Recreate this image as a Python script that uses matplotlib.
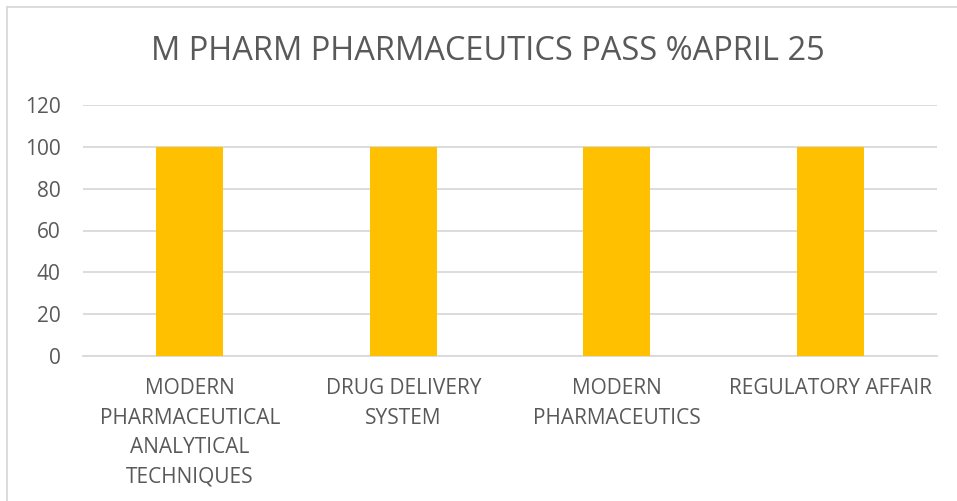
import matplotlib
matplotlib.use("Agg")
import matplotlib.pyplot as plt
from matplotlib.lines import Line2D

plt.rcParams["font.family"] = ["Open Sans", "DejaVu Sans"]

TITLE = "M PHARM PHARMACEUTICS PASS %APRIL 25"
CATEGORIES = [
    "MODERN\nPHARMACEUTICAL\nANALYTICAL\nTECHNIQUES",
    "DRUG DELIVERY\nSYSTEM",
    "MODERN\nPHARMACEUTICS",
    "REGULATORY AFFAIR",
]
PASS_PCT = [100, 100, 100, 100]
Y_TICKS = [0, 20, 40, 60, 80, 100, 120]

TEXT_COLOR = "#595959"
GRID_COLOR = "#D9D9D9"
BAR_COLOR = "#FFC000"

W, H = 957, 501
fig = plt.figure(figsize=(W / 100, H / 100), dpi=100)
# plot area in pixels: x 83..937, y 105..356
ax = fig.add_axes([83 / W, 1 - 356 / H, (937 - 83) / W, (356 - 105) / H])

x = range(len(CATEGORIES))
ax.bar(x, PASS_PCT, width=0.314, color=BAR_COLOR, zorder=3)

ax.set_xlim(-0.5, len(CATEGORIES) - 0.5)
ax.set_ylim(0, 120)
ax.set_yticks(Y_TICKS)
ax.set_xticks(list(x))
ax.set_xticklabels(CATEGORIES, linespacing=1.52)
ax.yaxis.grid(True, color=GRID_COLOR, linewidth=1.3, zorder=0)
ax.tick_params(axis="both", length=0, colors=TEXT_COLOR, labelsize=15)
ax.tick_params(axis="y", pad=16)
ax.tick_params(axis="x", pad=16)
for lab in ax.get_yticklabels():
    lab.set_horizontalalignment("right")
for side in ("top", "right", "left"):
    ax.spines[side].set_visible(False)
ax.spines["bottom"].set_color(GRID_COLOR)
ax.spines["bottom"].set_linewidth(1.3)

fig.text(488 / W, 1 - 51 / H, TITLE, ha="center", va="center",
         fontsize=23.5, color=TEXT_COLOR)

# chart frame (top and left edges visible)
fig.add_artist(Line2D([6.5 / W, 1], [1 - 6.5 / H, 1 - 6.5 / H],
                      color=GRID_COLOR, linewidth=1.3, transform=fig.transFigure))
fig.add_artist(Line2D([6.5 / W, 6.5 / W], [0, 1 - 6.5 / H],
                      color=GRID_COLOR, linewidth=1.3, transform=fig.transFigure))

fig.savefig("out.png", dpi=100, facecolor="white")
